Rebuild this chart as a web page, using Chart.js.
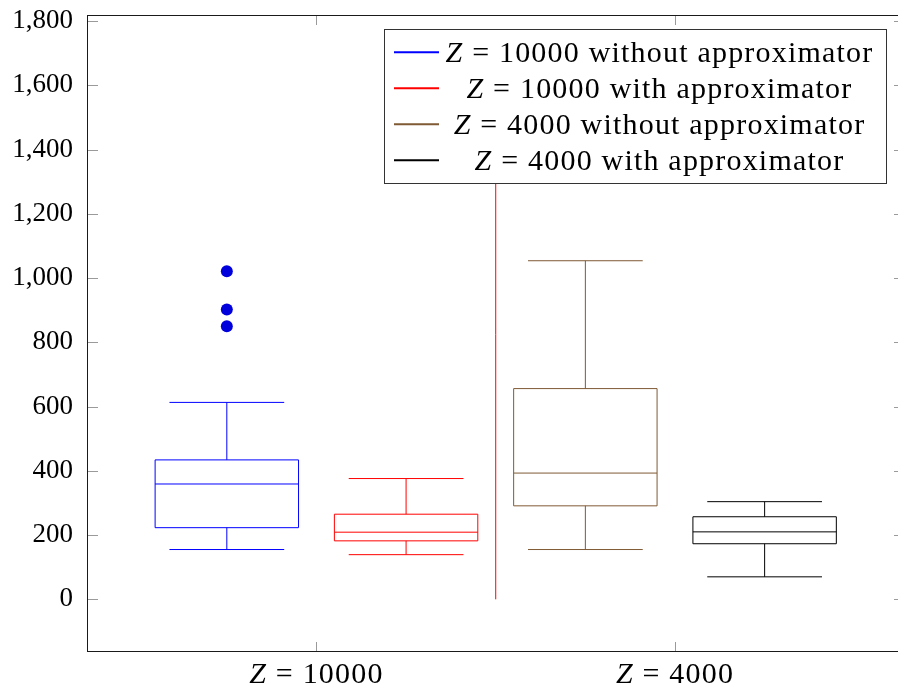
<!DOCTYPE html>
<html><head><meta charset="utf-8">
<script src="https://cdn.jsdelivr.net/npm/chart.js@4.4.1/dist/chart.umd.min.js"></script>
<style>html,body{margin:0;padding:0;overflow:hidden;background:#fff;width:898px;height:690px}canvas{display:block}</style>
</head><body><canvas id="c" width="898" height="690" style="width:898px;height:690px"></canvas>
<script>
// ---- data ----
const seriesLabels = ['Z = 10000 without approximator','Z = 10000 with approximator','Z = 4000 without approximator','Z = 4000 with approximator'];
const positions = [1, 2, 3, 4];
const lowerWhisker = [155, 139, 155, 70];
const q1 = [223, 182, 291, 173];
const median = [359, 209, 393, 210];
const q3 = [434, 265, 656, 257];
const upperWhisker = [613, 376, 1054, 304];
const outliers = [[1021, 902, 850], [], [], []];
const xTickPositions = [1.5, 3.5];
const xTickLabels = ['Z = 10000', 'Z = 4000'];
const yTicks = [0, 200, 400, 600, 800, 1000, 1200, 1400, 1600, 1800];
const dividerX = 2.5;
const dividerRange = [0, 1650];

// ---- styles ----
const colors = ['#0000ff', '#ff0000', '#7f5a34', '#000000'];
const dividerColor = '#ff0000';
const boxWidth = 0.8;
const capRatio = 0.8;
const rightOverflow = 7; // plot frame continues past the page edge
const FONT = "'Liberation Serif', 'Times New Roman', serif";

function drawMathLabel(ctx, text, cx, baseline, size, spacing) {
  const i = text.indexOf(' ');
  const head = text.slice(0, i), rest = text.slice(i);
  ctx.letterSpacing = (spacing || 0) + 'px';
  ctx.font = 'italic ' + size + 'px ' + FONT;
  const w1 = ctx.measureText(head).width;
  ctx.font = size + 'px ' + FONT;
  const w2 = ctx.measureText(rest).width;
  let x = cx - (w1 + w2) / 2;
  ctx.textAlign = 'left';
  ctx.textBaseline = 'alphabetic';
  ctx.font = 'italic ' + size + 'px ' + FONT;
  ctx.fillText(head, x, baseline);
  ctx.font = size + 'px ' + FONT;
  ctx.fillText(rest, x + w1, baseline);
  ctx.letterSpacing = '0px';
}

const boxPlugin = {
  id: 'boxes',
  afterDatasetsDraw(chart) {
    const {ctx, scales: {x, y}} = chart;
    ctx.save();
    ctx.lineWidth = 1;
    for (let i = 0; i < positions.length; i++) {
      const cx = x.getPixelForValue(positions[i]);
      const left = x.getPixelForValue(positions[i] - boxWidth / 2);
      const right = x.getPixelForValue(positions[i] + boxWidth / 2);
      const half = (right - left) / 2;
      const cap = half * capRatio;
      const yq1 = y.getPixelForValue(q1[i]);
      const yq3 = y.getPixelForValue(q3[i]);
      const ym = y.getPixelForValue(median[i]);
      const ylo = y.getPixelForValue(lowerWhisker[i]);
      const yhi = y.getPixelForValue(upperWhisker[i]);
      ctx.strokeStyle = colors[i];
      ctx.beginPath();
      ctx.rect(cx - half, yq3, 2 * half, yq1 - yq3);
      ctx.moveTo(cx - half, ym); ctx.lineTo(cx + half, ym);
      ctx.moveTo(cx, yq3); ctx.lineTo(cx, yhi);
      ctx.moveTo(cx - cap, yhi); ctx.lineTo(cx + cap, yhi);
      ctx.moveTo(cx, yq1); ctx.lineTo(cx, ylo);
      ctx.moveTo(cx - cap, ylo); ctx.lineTo(cx + cap, ylo);
      ctx.stroke();
    }
    ctx.restore();
  }
};

const framePlugin = {
  id: 'frame',
  afterDraw(chart) {
    const {ctx, chartArea: a, scales: {x, y}} = chart;
    const R = a.right + rightOverflow;
    ctx.save();
    ctx.strokeStyle = '#9a9a9a';
    ctx.lineWidth = 1;
    ctx.beginPath();
    yTicks.forEach(v => {
      const py = Math.round(y.getPixelForValue(v)) + 0.5;
      ctx.moveTo(a.left, py); ctx.lineTo(a.left + 11, py);
      ctx.moveTo(R - 11, py); ctx.lineTo(R, py);
    });
    xTickPositions.forEach(v => {
      const px = Math.round(x.getPixelForValue(v)) + 0.5;
      ctx.moveTo(px, a.bottom); ctx.lineTo(px, a.bottom - 10);
      ctx.moveTo(px, a.top); ctx.lineTo(px, a.top + 10);
    });
    ctx.stroke();
    ctx.strokeStyle = '#1a1a1a';
    ctx.strokeRect(Math.round(a.left) + 0.5, Math.round(a.top) + 0.5, Math.round(R - a.left) - 1, Math.round(a.bottom - a.top) - 1);
    ctx.fillStyle = '#000';
    xTickPositions.forEach((v, i) => {
      drawMathLabel(ctx, xTickLabels[i], x.getPixelForValue(v), a.bottom + 31, 30, 1.2);
    });
    const lx = 384.5, ly = 29.5, lw = 502, lh = 154;
    ctx.fillStyle = '#fff';
    ctx.fillRect(lx, ly, lw, lh);
    ctx.strokeStyle = '#333';
    ctx.lineWidth = 1;
    ctx.strokeRect(lx, ly, lw, lh);
    seriesLabels.forEach((lab, i) => {
      const cy = 52.3 + i * 36;
      ctx.strokeStyle = colors[i];
      ctx.lineWidth = 2;
      ctx.beginPath();
      ctx.moveTo(394, cy); ctx.lineTo(439, cy);
      ctx.stroke();
      ctx.fillStyle = '#000';
      drawMathLabel(ctx, lab, 659.5, cy + 9.5, 30, 1.2);
    });
    ctx.restore();
  }
};

const outlierPoints = outliers.flatMap((arr, i) => arr.map(v => ({x: positions[i], y: v})));

function zeroPad(s) { s.paddingTop = 0; s.paddingBottom = 0; s.paddingLeft = 0; s.paddingRight = 0; }

new Chart(document.getElementById('c'), {
  type: 'scatter',
  data: {
    datasets: [
      {label: 'outliers', data: outlierPoints, pointRadius: 6, pointBackgroundColor: '#0000dd', pointBorderWidth: 0, showLine: false, clip: false},
      {label: 'divider', data: [{x: dividerX, y: dividerRange[0]}, {x: dividerX, y: dividerRange[1]}], showLine: true,
       borderColor: dividerColor, backgroundColor: dividerColor, borderWidth: 1, pointRadius: 0, clip: false}
    ]
  },
  options: {
    responsive: false,
    animation: false,
    devicePixelRatio: 1,
    layout: {autoPadding: false, padding: {top: 15, left: 0, right: 0, bottom: 0}},
    plugins: {legend: {display: false}, tooltip: {enabled: false}},
    scales: {
      x: {type: 'linear', min: 0.22, max: 4.744, grid: {display: false, drawTicks: false}, border: {display: false}, ticks: {display: false},
          afterFit(s) { s.height = 38; zeroPad(s); }},
      y: {type: 'linear', min: -164, max: 1819, grid: {display: false, drawTicks: false}, border: {display: false},
          afterBuildTicks(s) { s.ticks = yTicks.map(v => ({value: v})); },
          ticks: {font: {family: FONT, size: 27}, color: '#000', padding: 14},
          afterFit(s) { s.width = 87; zeroPad(s); }}
    }
  },
  plugins: [boxPlugin, framePlugin]
});
</script>
</body></html>
